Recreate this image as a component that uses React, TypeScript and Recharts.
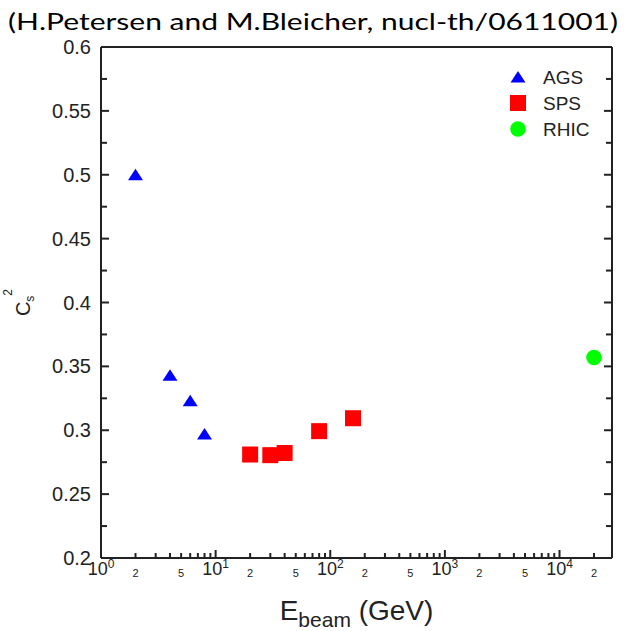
import { ScatterChart, Scatter, XAxis, YAxis, Legend } from "recharts";

// beam energy (GeV) and extracted speed of sound squared
const agsEnergy = [2, 4, 6, 8];
const agsCs2 = [0.5, 0.343, 0.323, 0.297];
const spsEnergy = [20, 30, 40, 80, 158];
const spsCs2 = [0.281, 0.2805, 0.2822, 0.2993, 0.3094];
const rhicEnergy = [20000];
const rhicCs2 = [0.357];
const legendOrder = ["AGS", "SPS", "RHIC"];

const xDecades = [1, 10, 100, 1000, 10000];
const xMantissas = [1, 2, 3, 4, 5, 6, 7, 8, 9];
const xMax = 28700;
const xLabelMantissas = [2, 5];
const yTicks = [
  0.2, 0.225, 0.25, 0.275, 0.3, 0.325, 0.35, 0.375, 0.4, 0.425, 0.45, 0.475,
  0.5, 0.525, 0.55, 0.575, 0.6,
];
const yLabels = ["0.2", "0.25", "0.3", "0.35", "0.4", "0.45", "0.5", "0.55", "0.6"];

const xTicks = xDecades
  .flatMap((d) => xMantissas.map((m) => m * d))
  .filter((v) => v <= xMax);

const ags = agsEnergy.map((e, i) => ({ e, c: agsCs2[i] }));
const sps = spsEnergy.map((e, i) => ({ e, c: spsCs2[i] }));
const rhic = rhicEnergy.map((e, i) => ({ e, c: rhicCs2[i] }));

const INK = "#222";
const FONT = "'Liberation Sans', Arial, sans-serif";

const splitLog = (v: number) => {
  const exp = Math.floor(Math.log10(v) + 1e-9);
  const mant = Math.round(v / Math.pow(10, exp));
  return { exp, mant };
};

const BottomTick = (props: any) => {
  const { x, y, payload } = props;
  const { exp, mant } = splitLog(payload.value);
  const major = mant === 1;
  return (
    <g>
      <line x1={x} x2={x} y1={y} y2={y - (major ? 8 : 5)} stroke={INK} strokeWidth={2} />
      {major ? (
        <text x={x} y={y + 17} textAnchor="middle" fontSize={18} fill={INK} fontFamily={FONT}>
          10
          <tspan dy={-7} fontSize={12}>
            {exp}
          </tspan>
        </text>
      ) : xLabelMantissas.includes(mant) ? (
        <text x={x} y={y + 19} textAnchor="middle" fontSize={11} fill={INK} fontFamily={FONT}>
          {mant}
        </text>
      ) : null}
    </g>
  );
};

const TopTick = (props: any) => {
  const { x, y, payload } = props;
  const { mant } = splitLog(payload.value);
  return <line x1={x} x2={x} y1={y} y2={y + (mant === 1 ? 8 : 5)} stroke={INK} strokeWidth={2} />;
};

const yLabelFor = (v: number) => yLabels.find((s) => Math.abs(parseFloat(s) - v) < 1e-6);

const LeftTick = (props: any) => {
  const { x, y, payload } = props;
  const label = yLabelFor(payload.value);
  return (
    <g>
      <line x1={x} x2={x + (label ? 8 : 6)} y1={y} y2={y} stroke={INK} strokeWidth={2} />
      {label && (
        <text x={x - 10} y={y + 7} textAnchor="end" fontSize={20} fill={INK} fontFamily={FONT}>
          {label}
        </text>
      )}
    </g>
  );
};

const RightTick = (props: any) => {
  const { x, y, payload } = props;
  const label = yLabelFor(payload.value);
  return <line x1={x} x2={x - (label ? 8 : 6)} y1={y} y2={y} stroke={INK} strokeWidth={2} />;
};

const Triangle = ({ cx, cy }: any) => (
  <polygon points={`${cx - 7.5},${cy + 5.5} ${cx + 7.5},${cy + 5.5} ${cx},${cy - 6}`} fill="#0000ff" />
);
const Square = ({ cx, cy }: any) => <rect x={cx - 8} y={cy - 8} width={16} height={16} fill="#ff0000" />;
const Dot = ({ cx, cy }: any) => <circle cx={cx} cy={cy} r={7.8} fill="#00ff00" />;

const legendIcon = (type: string, cx: number, cy: number) => {
  if (type === "triangle") return <Triangle cx={cx} cy={cy} />;
  if (type === "square") return <Square cx={cx} cy={cy} />;
  return <Dot cx={cx} cy={cy} />;
};

const LegendBox = ({ payload }: any) => {
  const items = legendOrder
    .map((name) => (payload || []).find((p: any) => p.value === name))
    .filter(Boolean);
  return (
    <svg width={110} height={80}>
      {items.map((p: any, i: number) => (
        <g key={p.value}>
          {legendIcon(p.type, 13, 13 + i * 26)}
          <text x={38} y={13 + i * 26 + 7} fontSize={19} fill={INK} fontFamily={FONT}>
            {p.value}
          </text>
        </g>
      ))}
    </svg>
  );
};

const YTitle = ({ viewBox }: any) => {
  const cy = viewBox.y + viewBox.height / 2;
  return (
    <text transform={`translate(30,${cy}) rotate(-90)`} textAnchor="middle" fontSize={20} fill={INK} fontFamily={FONT}>
      C
      <tspan dy={4} fontSize={12}>
        s
      </tspan>
      <tspan dy={-22} fontSize={12}>
        2
      </tspan>
    </text>
  );
};

const XTitle = ({ viewBox }: any) => {
  const cx = viewBox.x + viewBox.width / 2;
  return (
    <text x={cx} y={620} textAnchor="middle" fontSize={28} fill={INK} fontFamily={FONT}>
      E
      <tspan dy={7} fontSize={21}>
        beam
      </tspan>
      <tspan dy={-7}> (GeV)</tspan>
    </text>
  );
};

const axisLine = { stroke: INK, strokeWidth: 2 };

export default function App() {
  return (
    <div style={{ position: "absolute", left: 0, top: 0, width: 625, height: 631, background: "#fff" }}>
      <svg width={625} height={40} style={{ position: "absolute", left: 0, top: 0 }}>
        <text x={8} y={30} fontSize={24} fill="#000" fontFamily="Lato, 'Open Sans', sans-serif" textLength={610} lengthAdjust="spacingAndGlyphs">
          (H.Petersen and M.Bleicher, nucl-th/0611001)
        </text>
      </svg>
      <ScatterChart width={625} height={631} margin={{ top: 42, right: 8, bottom: 13, left: 0 }} style={{ fontFamily: FONT }}>
        <XAxis
          xAxisId="b"
          dataKey="e"
          type="number"
          scale="log"
          domain={[1, xMax]}
          allowDataOverflow
          ticks={xTicks}
          interval={0}
          tick={BottomTick}
          tickLine={false}
          tickSize={0}
          tickMargin={0}
          axisLine={axisLine}
          height={60}
          label={{ content: XTitle }}
        />
        <XAxis
          xAxisId="t"
          orientation="top"
          type="number"
          scale="log"
          domain={[1, xMax]}
          allowDataOverflow
          ticks={xTicks}
          interval={0}
          tick={TopTick}
          tickLine={false}
          tickSize={0}
          tickMargin={0}
          axisLine={axisLine}
          height={5}
        />
        <YAxis
          yAxisId="l"
          dataKey="c"
          type="number"
          domain={[0.2, 0.6]}
          allowDataOverflow
          ticks={yTicks}
          interval={0}
          tick={LeftTick}
          tickLine={false}
          tickSize={0}
          tickMargin={0}
          axisLine={axisLine}
          width={101}
          label={{ content: YTitle }}
        />
        <YAxis
          yAxisId="r"
          orientation="right"
          type="number"
          domain={[0.2, 0.6]}
          allowDataOverflow
          ticks={yTicks}
          interval={0}
          tick={RightTick}
          tickLine={false}
          tickSize={0}
          tickMargin={0}
          axisLine={axisLine}
          width={5}
        />
        <Legend
          layout="vertical"
          align="center"
          verticalAlign="middle"
          content={LegendBox}
          wrapperStyle={{ left: 505, top: 64, width: 110, height: 80 }}
        />
        <Scatter xAxisId="b" yAxisId="l" name="AGS" data={ags} legendType="triangle" fill="#0000ff" shape={Triangle} isAnimationActive={false} />
        <Scatter xAxisId="b" yAxisId="l" name="SPS" data={sps} legendType="square" fill="#ff0000" shape={Square} isAnimationActive={false} />
        <Scatter xAxisId="b" yAxisId="l" name="RHIC" data={rhic} legendType="circle" fill="#00ff00" shape={Dot} isAnimationActive={false} />
      </ScatterChart>
    </div>
  );
}
